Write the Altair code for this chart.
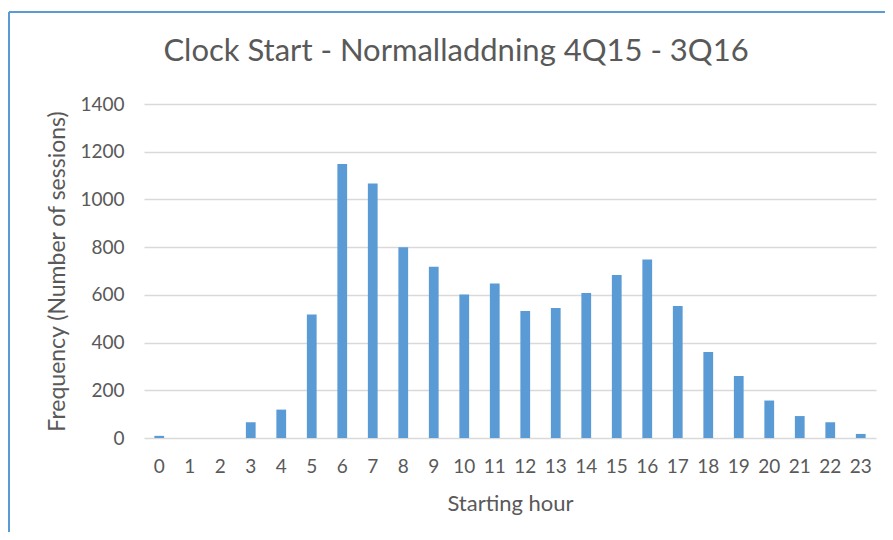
import altair as alt
import pandas as pd

hours = list(range(24))
sessions = [9, 0, 0, 66, 119, 518, 1148, 1067, 800, 718, 602, 648, 532, 545, 608, 683, 748, 553, 360, 260, 157, 92, 66, 17]
title_text = ["Clock Start - Normalladdning 4Q15 - 3Q16"]

df = pd.DataFrame({"hour": hours, "sessions": sessions})

FONT = "Lato"
GRAY = "#595959"
W, H = 732, 334

bars = alt.Chart(df).mark_bar(color="#5B9BD5").encode(
    x=alt.X("hour:O", title="Starting hour",
            scale=alt.Scale(paddingInner=0.68, paddingOuter=0.34),
            axis=alt.Axis(labelAngle=0, ticks=False, domain=False,
                          labelFontSize=19, labelColor=GRAY, labelFont=FONT,
                          labelPadding=19, titleFontSize=22, titleFont=FONT,
                          titleColor=GRAY, titleFontWeight="normal", titlePadding=17)),
    y=alt.Y("sessions:Q", title="Frequency (Number of sessions)",
            scale=alt.Scale(domain=[0, 1400], nice=False),
            axis=alt.Axis(values=[0, 200, 400, 600, 800, 1000, 1200, 1400],
                          format="d", ticks=False, domain=False, grid=True,
                          gridColor="#d9d9d9", gridWidth=1.5,
                          labelFontSize=19, labelColor=GRAY, labelFont=FONT,
                          labelPadding=20, titleFontSize=23, titleFont=FONT,
                          titleColor=GRAY, titleFontWeight="normal", titlePadding=10)),
)

frame = pd.DataFrame({"a": [0]})
title = alt.Chart(pd.DataFrame({"t": title_text})).mark_text(
    font=FONT, fontSize=31, color=GRAY, align="center", baseline="middle").encode(
    text="t:N", x=alt.value(W / 2 - 54), y=alt.value(-52))
left_border = alt.Chart(frame).mark_rule(color="#5B9BD5", strokeWidth=2).encode(
    x=alt.value(-135), y=alt.value(-92), y2=alt.value(H + 100))
top_border = alt.Chart(frame).mark_rule(color="#5B9BD5", strokeWidth=2).encode(
    x=alt.value(-135), x2=alt.value(W + 20), y=alt.value(-92))

chart = alt.layer(bars, title, left_border, top_border).properties(
    width=W, height=H,
    autosize=alt.AutoSizeParams(type="none"),
    padding={"left": 136, "top": 96, "right": 9, "bottom": 94},
).configure_view(stroke=None)

chart.save("out.html", embed_options={"renderer": "svg", "actions": False})
